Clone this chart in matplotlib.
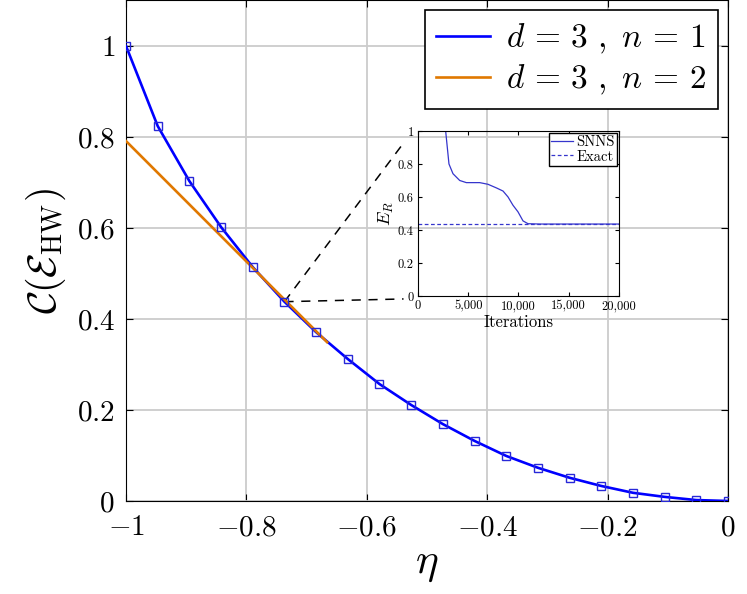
import matplotlib
matplotlib.use('Agg')
import matplotlib.pyplot as plt
import numpy as np
from matplotlib.ticker import FuncFormatter

plt.rcParams['mathtext.fontset'] = 'cm'
plt.rcParams['font.family'] = 'serif'
plt.rcParams['font.serif'] = ['cmr10']
plt.rcParams['axes.formatter.use_mathtext'] = True

# main curve, d=3 n=1
eta = np.linspace(-1, 0, 20)
c_n1 = [1.0, 0.824, 0.703, 0.602, 0.514, 0.438, 0.371, 0.312, 0.257, 0.211,
        0.169, 0.132, 0.099, 0.073, 0.051, 0.033, 0.018, 0.009, 0.002, 0.0]

# tangent line, d=3 n=2
eta_n2 = [-1.0, -0.666]
c_n2 = [0.791, 0.349]

# inset: SNNS training curve
iters = [2750, 3080, 3480, 4150, 4810, 6140, 6960, 7800, 8460, 8960, 9450,
         9950, 10450, 10950, 12100, 20000]
e_r = [1.0, 0.80, 0.741, 0.70, 0.687, 0.687, 0.677, 0.655, 0.636, 0.60, 0.55,
       0.51, 0.455, 0.438, 0.436, 0.436]
exact = 0.436

blue = (0, 0, 1)
orange = '#e07800'

fig = plt.figure(figsize=(7.47, 5.94), dpi=100)
ax = fig.add_axes([0.1687, 0.1566, 0.8059, 0.8426])

ax.plot(eta, c_n1, '-', color=blue, lw=1.9, label=r'$d\,=\,3\ ,\ n\,=\,1$', zorder=3)
ax.plot(eta_n2, c_n2, '-', color=orange, lw=1.9, label=r'$d\,=\,3\ ,\ n\,=\,2$', zorder=4)
ax.plot(eta, c_n1, 's', ms=5.5, mfc='none', mec='#2828d8', mew=1.0, zorder=5)

# zoom lines to the inset
ax.plot([eta[5], -0.540], [c_n1[5], 0.785], '--', color='k', lw=1.1, dashes=(6, 5), zorder=2)
ax.plot([eta[5], -0.539], [c_n1[5], 0.444], '--', color='k', lw=1.1, dashes=(6, 5), zorder=2)

fmt = FuncFormatter(lambda v, p: '$%g$' % round(v, 3))
ax.set_xlim(-1, 0)
ax.set_ylim(0, 1.1)
ax.set_xticks([-1, -0.8, -0.6, -0.4, -0.2, 0])
ax.set_yticks([0, 0.2, 0.4, 0.6, 0.8, 1])
ax.xaxis.set_major_formatter(fmt)
ax.yaxis.set_major_formatter(fmt)
ax.grid(True, color='#cccccc', lw=1.3)
ax.set_axisbelow(True)
ax.tick_params(direction='in', labelsize=21, length=5, top=True, right=True)
ax.tick_params(axis='x', pad=10)
ax.tick_params(axis='y', pad=8)
ax.set_xlabel(r'$\eta$', fontsize=31, labelpad=4)
ax.set_ylabel(r'$\mathcal{C}(\mathcal{E}_{\rm HW})$', fontsize=29, labelpad=6)
leg = ax.legend(loc='upper right', fontsize=24, fancybox=False, framealpha=1,
                edgecolor='k', handlelength=1.6, borderaxespad=0.3,
                labelspacing=0.2, handletextpad=0.5, borderpad=0.35)
leg.get_frame().set_linewidth(1.2)

# inset
ins = fig.add_axes([0.5596, 0.5017, 0.269, 0.2778])
ins.patch.set_alpha(0)
ins.plot(iters, e_r, '-', color='#3535cc', lw=0.9, label='SNNS')
ins.axhline(exact, color='#3535cc', lw=0.9, ls='--', dashes=(3, 2), label='Exact')
ins.set_xlim(0, 20000)
ins.set_ylim(0, 1)
ins.set_xticks([0, 5000, 10000, 15000, 20000])
ins.set_yticks([0, 0.2, 0.4, 0.6, 0.8, 1])
ins.xaxis.set_major_formatter(FuncFormatter(lambda v, p: f'{v:,.0f}'))
ins.yaxis.set_major_formatter(FuncFormatter(lambda v, p: f'{v:g}'))
ins.tick_params(direction='in', labelsize=9, length=3, top=True, right=True, pad=3)
ins.set_xlabel('Iterations', fontsize=12, labelpad=2)
ins.set_ylabel(r'$E_R$', fontsize=13, labelpad=1)
ins.legend(loc='upper right', fontsize=10.5, fancybox=False, framealpha=1,
           edgecolor='k', handlelength=1.5, borderaxespad=0.15,
           labelspacing=0.05, handletextpad=0.2, borderpad=0.15)

fig.savefig('out.png', dpi=100)
